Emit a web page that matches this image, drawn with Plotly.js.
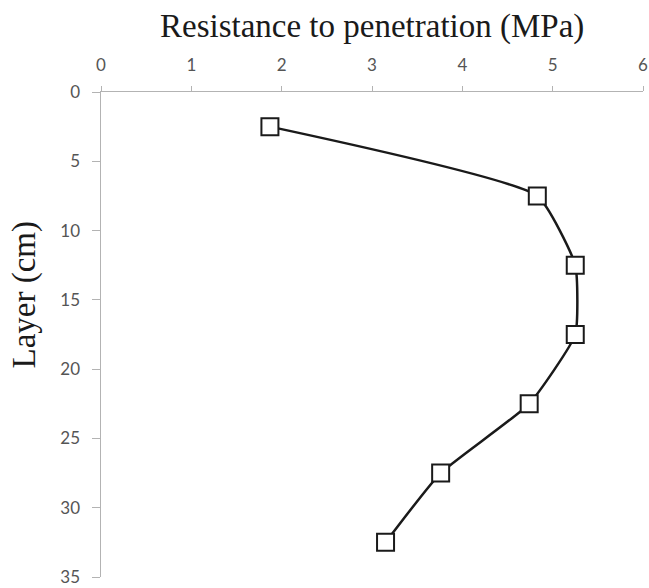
<!DOCTYPE html>
<html>
<head>
<meta charset="utf-8">
<script src="https://cdn.plot.ly/plotly-3.0.1.min.js"></script>
<style>html,body{margin:0;padding:0;background:#fff;}#chart{width:649px;height:588px;}</style>
</head>
<body>
<div id="chart"></div>
<script>
const depthCm = [2.5, 7.5, 12.5, 17.5, 22.5, 27.5, 32.5];
const resistanceMPa = [1.87, 4.83, 5.25, 5.25, 4.74, 3.76, 3.15];
const xTickVals = [0, 1, 2, 3, 4, 5, 6];
const yTickVals = [0, 5, 10, 15, 20, 25, 30, 35];
const xTitle = 'Resistance to penetration (MPa)';
const yTitle = 'Layer (cm)';

const trace = {
  x: resistanceMPa,
  y: depthCm,
  type: 'scatter',
  mode: 'lines+markers',
  line: {color: '#1a1a1a', width: 2.5, shape: 'spline', smoothing: 0.45},
  marker: {symbol: 'square', size: 17, color: '#ffffff', line: {color: '#1a1a1a', width: 2}},
  cliponaxis: false,
  showlegend: false
};

const tickFont = {family: 'Lato, "Open Sans", sans-serif', size: 17, color: '#555555'};
const titleFont = {family: '"Liberation Serif", "Times New Roman", serif', size: 33, color: '#1a1a1a'};

const layout = {
  width: 649, height: 588,
  margin: {l: 101, r: 6, t: 92, b: 11},
  paper_bgcolor: '#ffffff', plot_bgcolor: '#ffffff',
  xaxis: {
    side: 'top', range: [0, 6], tickvals: xTickVals, ticktext: xTickVals.map(String),
    showgrid: false, zeroline: false, showline: true, linecolor: '#b3b3b3', linewidth: 1.5,
    ticks: 'outside', ticklen: 5, tickcolor: '#b3b3b3', tickfont: tickFont,
    ticklabelstandoff: 8, ticklabeloverflow: 'allow'
  },
  yaxis: {
    range: [35, 0], tickvals: yTickVals, ticktext: yTickVals.map(String),
    showgrid: false, zeroline: false, showline: true, linecolor: '#b3b3b3', linewidth: 1.5,
    ticks: 'outside', ticklen: 8, tickcolor: '#b3b3b3', tickfont: tickFont,
    ticklabelstandoff: 8, ticklabeloverflow: 'allow'
  },
  annotations: [
    {text: xTitle, xref: 'paper', yref: 'paper', x: 0.5, y: 1, yshift: 66,
     xanchor: 'center', yanchor: 'middle', showarrow: false, font: titleFont},
    {text: yTitle, xref: 'paper', yref: 'paper', x: 0, y: 0.5, xshift: -77, yshift: 40,
     xanchor: 'center', yanchor: 'middle', textangle: -90, showarrow: false, font: titleFont}
  ]
};

Plotly.newPlot('chart', [trace], layout, {displayModeBar: false, staticPlot: true});
</script>
</body>
</html>
